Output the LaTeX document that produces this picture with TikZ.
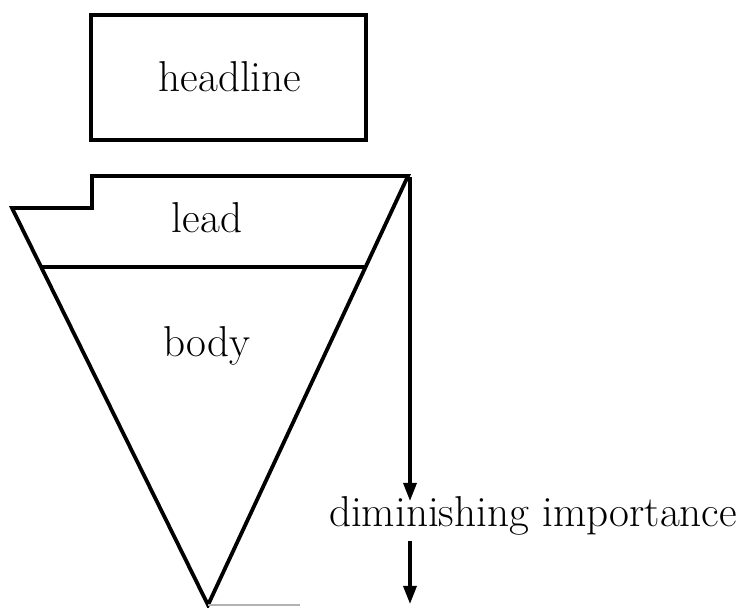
\documentclass[tikz,border=0pt]{standalone}
\usetikzlibrary{arrows.meta,calc}
\begin{document}
\begin{tikzpicture}[x=0.5pt,y=-0.5pt,
  shape line/.style={line width=1.9pt,line join=miter},
  lbl/.style={anchor=base,inner sep=0pt,font=\fontsize{21.6}{26}\selectfont},
  imparrow/.style={line width=1.6pt,-{Triangle[length=9pt,width=6.5pt]}}]
\useasboundingbox (0,0) rectangle (741,608);
% headline box
\node[shape line,draw,minimum width=137.5pt,minimum height=62.5pt,inner sep=0pt]
  (hbox) at (228.5,77.5) {};
\node[lbl] (head) at (230,92) {headline};
% funnel
\coordinate (A) at (12,208);
\coordinate (B) at (92,208);
\coordinate (C) at (92,176);
\coordinate (R) at (408,176);
\coordinate (T) at (208,605);
\draw[shape line] (A) -- (B) -- (C) -- (R) -- (T) -- cycle;
\coordinate (DL) at ($(A)!0.1486!(T)$);
\coordinate (DR) at ($(R)!0.2121!(T)$);
\draw[shape line] (DL) -- (DR);
\node[lbl] (lead) at (207,233) {lead};
\node[lbl] (body) at (207,357) {body};
% faint bottom edge
\coordinate (F) at (300,605);
\draw[gray!60,line width=0.8pt] (T) -- (F);
% arrow
\coordinate (a0) at (410,177);
\coordinate (a1) at (410,501);
\coordinate (a2) at (410,541);
\coordinate (a3) at (410,604);
\node[lbl] (dim) at (533,527) {diminishing importance};
\draw[imparrow] (a0) -- (a1);
\draw[imparrow] (a2) -- (a3);
\end{tikzpicture}
\end{document}
